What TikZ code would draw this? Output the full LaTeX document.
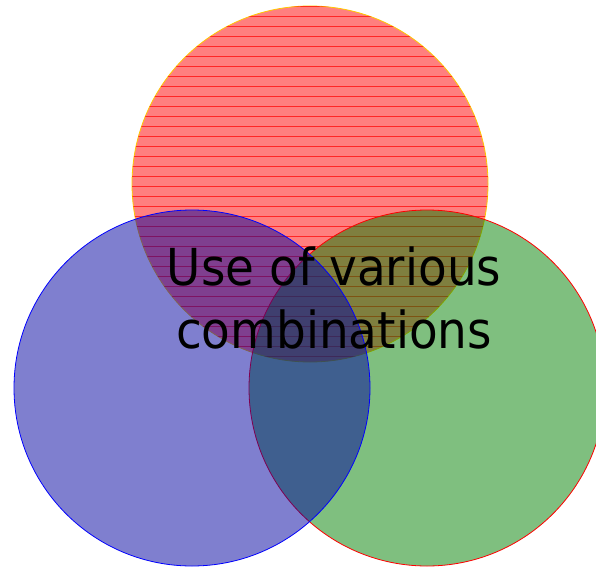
\documentclass[tikz,border=0pt]{standalone}
\usepackage{fontspec}
\newfontfamily\venfont[FakeStretch=0.92]{DejaVu Sans}
\definecolor{setred}{RGB}{255,0,0}
\definecolor{setblue}{RGB}{0,0,160}
\definecolor{setgreen}{RGB}{0,128,0}
\definecolor{rimgold}{RGB}{255,200,0}
\tikzset{setdisc/.style={circle,inner sep=0pt,minimum size=356pt,fill opacity=0.5,line width=0.8pt}}

\begin{document}
\begin{tikzpicture}[x=1pt,y=-1pt]
\useasboundingbox (0,0) rectangle (596,567);
\node[setdisc,fill=setred,draw=rimgold] (top) at (310,184) {};
\begin{scope}
\clip (310,184) circle (178pt);
\foreach \y in {6,16,...,366} \draw[setred,opacity=0.7,line width=0.8pt] (120,\y) -- (500,\y);
\end{scope}
\node[setdisc,fill=setgreen,draw=red] (right) at (427,388) {};
\node[setdisc,fill=setblue,draw=blue] (left) at (192,388) {};
\node[align=center,font=\venfont\fontsize{51}{63}\selectfont] (title) at (334,298) {Use of various\\combinations};
\end{tikzpicture}
\end{document}
